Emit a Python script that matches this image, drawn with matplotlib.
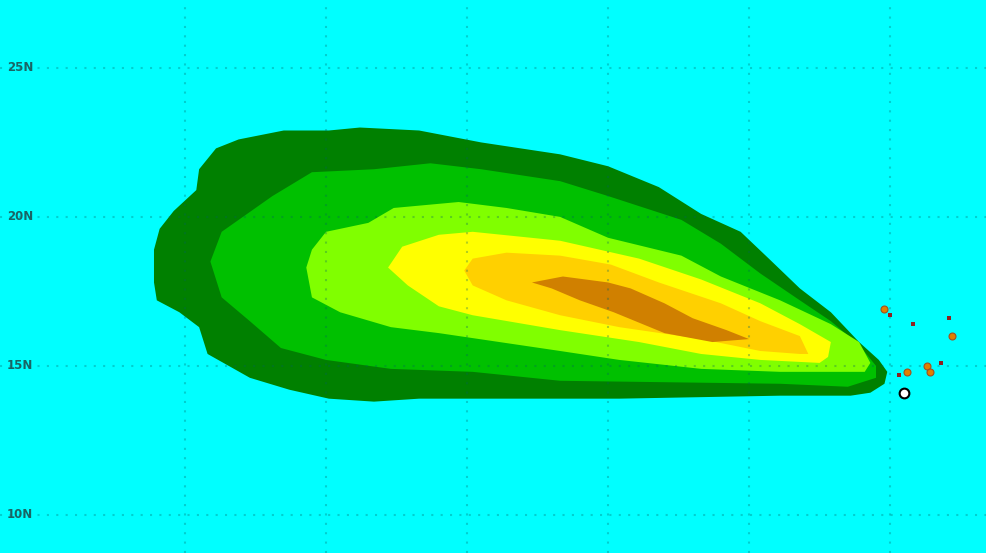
import numpy as np
import matplotlib
matplotlib.use("Agg")
import matplotlib.pyplot as plt

# ── Probability swath outlines (lon, lat), outermost to innermost ───────────

band1_lon = [-71.1, -71.1, -70.9, -70.4, -69.6, -69.5, -68.9, -68.1, -66.5, -64.9,
             -63.8, -61.7, -59.5, -56.7, -55.0, -53.2, -51.7, -50.3, -49.3, -48.2,
             -47.1, -46.1, -45.4, -45.1, -45.2, -45.7, -46.4, -48.9, -54.6, -59.5,
             -61.7, -63.3, -64.9, -66.3, -67.7, -69.2, -69.5, -70.2, -71.0]
band1_lat = [17.8, 18.9, 19.6, 20.2, 20.9, 21.6, 22.3, 22.6, 22.9, 22.9,
             23.0, 22.9, 22.5, 22.1, 21.7, 21.0, 20.1, 19.5, 18.6, 17.6,
             16.8, 15.8, 15.2, 14.8, 14.4, 14.1, 14.0, 14.0, 13.9, 13.9,
             13.9, 13.8, 13.9, 14.2, 14.6, 15.4, 16.3, 16.8, 17.2]

band2_lon = [-69.1, -68.7, -66.9, -65.5, -63.3, -61.3, -59.5, -56.7, -55.0, -52.4,
             -51.0, -49.6, -48.2, -47.1, -46.1, -45.5, -45.5, -46.5, -48.9, -56.7,
             -59.8, -62.7, -65.0, -66.6, -67.7, -68.7, -69.0]
band2_lat = [18.5, 19.5, 20.7, 21.5, 21.6, 21.8, 21.6, 21.2, 20.7, 19.9,
             19.1, 18.1, 17.2, 16.5, 15.7, 15.0, 14.6, 14.3, 14.4, 14.5,
             14.8, 14.9, 15.2, 15.6, 16.5, 17.3, 18.2]

band3_lon = [-65.7, -65.5, -65.0, -63.5, -62.6, -60.3, -58.6, -56.7, -55.0, -52.4,
             -51.0, -48.9, -47.1, -46.1, -45.7, -45.9, -46.8, -48.9, -51.7, -54.6,
             -56.7, -61.0, -62.7, -64.5, -65.5]
band3_lat = [18.3, 18.9, 19.5, 19.8, 20.3, 20.5, 20.3, 20.0, 19.3, 18.7,
             18.0, 17.2, 16.4, 15.8, 15.1, 14.8, 14.8, 14.8, 14.9, 15.2,
             15.5, 16.1, 16.3, 16.8, 17.3]

band4_lon = [-62.8, -62.3, -61.0, -59.8, -56.7, -53.9, -51.7, -49.6, -48.2, -47.1,
             -47.2, -47.5, -49.6, -51.7, -53.9, -56.7, -59.8, -61.0, -62.1]
band4_lat = [18.3, 19.0, 19.4, 19.5, 19.2, 18.6, 17.9, 17.1, 16.4, 15.8,
             15.3, 15.1, 15.2, 15.4, 15.8, 16.2, 16.7, 17.0, 17.7]

band5_lon = [-60.1, -59.8, -58.6, -56.7, -54.9, -53.2, -51.0, -49.6, -48.2, -47.9,
             -48.2, -49.6, -51.7, -54.6, -56.7, -58.6, -59.8]
band5_lat = [18.2, 18.6, 18.8, 18.7, 18.4, 17.8, 17.1, 16.5, 16.0, 15.4,
             15.4, 15.5, 15.9, 16.3, 16.7, 17.2, 17.7]

band6_lon = [-57.7, -56.6, -55.0, -54.2, -53.0, -52.0, -50.8, -50.0, -51.3, -53.0,
             -54.8, -56.0, -57.0]
band6_lat = [17.8, 18.0, 17.8, 17.6, 17.1, 16.6, 16.2, 15.9, 15.8, 16.1,
             16.8, 17.2, 17.6]

band_colors = ["#008000", "#00c000", "#80ff00", "#ffff00", "#ffd000", "#d08000"]

# ── Station / report markers ────────────────────────────────────────────────

report_lon = [-45.2, -42.8, -44.4, -43.7, -43.6]
report_lat = [16.9, 16.0, 14.8, 15.0, 14.8]

tick_lon = [-45.0, -44.2, -42.9, -43.2, -44.7]
tick_lat = [16.7, 16.4, 16.6, 15.1, 14.7]

storm_lon = [-44.5]
storm_lat = [14.1]

grid_lon = [-70, -65, -60, -55, -50, -45]
grid_lat = [10, 15, 20, 25]
lat_labels = ["10N", "15N", "20N", "25N"]


def main():
    fig = plt.figure(figsize=(9.86, 5.53), dpi=100)
    ax = fig.add_axes([0, 0, 1, 1])
    ax.set_facecolor("#00ffff")
    ax.set_xlim(-76.56, -41.6)
    ax.set_ylim(8.72, 27.28)

    bands = [(band1_lon, band1_lat), (band2_lon, band2_lat), (band3_lon, band3_lat),
             (band4_lon, band4_lat), (band5_lon, band5_lat), (band6_lon, band6_lat)]
    for (lon, lat), c in zip(bands, band_colors):
        ax.fill(lon, lat, color=c, lw=0, zorder=2)

    # dotted lat/lon grid, drawn over the swath
    for g in grid_lon:
        ax.axvline(g, color="#006060", alpha=0.3, lw=1.5, ls=(0, (1, 3.5)), zorder=3)
    for g in grid_lat:
        ax.axhline(g, color="#006060", alpha=0.3, lw=1.5, ls=(0, (1, 3.5)), zorder=3)

    for g, s in zip(grid_lat, lat_labels):
        ax.text(-76.32, g, s, fontsize=8.5, fontweight="bold", color="#1a6464",
                va="center", ha="left", zorder=4)

    ax.plot(report_lon, report_lat, "o", ms=5, color="#e08000",
            mec="#a05020", mew=0.8, zorder=5)
    ax.plot(tick_lon, tick_lat, "s", ms=2.5, color="#902020", mew=0, zorder=5)
    ax.plot(storm_lon, storm_lat, "o", ms=7, color="white",
            mec="black", mew=1.5, zorder=6)

    ax.set_xticks([])
    ax.set_yticks([])
    for s in ax.spines.values():
        s.set_visible(False)

    fig.savefig("out.png", dpi=100)


if __name__ == "__main__":
    main()
